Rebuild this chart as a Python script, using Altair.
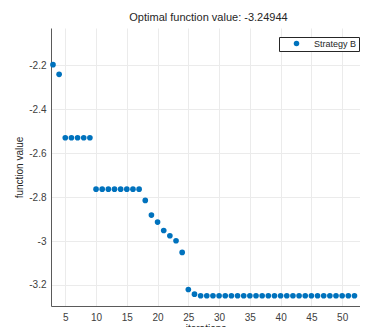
import altair as alt
import pandas as pd

iterations = list(range(3, 53))
values = [-2.197, -2.241,
          -2.53, -2.53, -2.53, -2.53, -2.53,
          -2.764, -2.764, -2.764, -2.764, -2.764, -2.764, -2.764, -2.764,
          -2.815, -2.882, -2.914, -2.952, -2.976, -2.999, -3.052,
          -3.221, -3.242] + [-3.24944] * 26
series = ["Strategy B"] * len(iterations)

df = pd.DataFrame({"iterations": iterations, "value": values, "series": series})

x_ticks = [5, 10, 15, 20, 25, 30, 35, 40, 45, 50]
y_ticks = [-3.2, -3.0, -2.8, -2.6, -2.4, -2.2]

chart = alt.Chart(df).mark_point(filled=True, size=32, opacity=1, shape="circle").encode(
    x=alt.X("iterations:Q",
            scale=alt.Scale(domain=[2.68, 52.9], nice=False, zero=False),
            axis=alt.Axis(values=x_ticks, title="iterations", labelPadding=6,
                          titlePadding=1)),
    y=alt.Y("value:Q",
            scale=alt.Scale(domain=[-3.296, -2.03], nice=False, zero=False),
            axis=alt.Axis(values=y_ticks, title="function value",
                          labelExpr="replace(format(datum.value, '~g'), '\u2212', '-')",
                          labelPadding=5, titlePadding=4)),
    color=alt.Color("series:N",
                    scale=alt.Scale(domain=["Strategy B"], range=["#0072BD"]),
                    legend=alt.Legend(title=None, orient="none", legendX=228, legendY=9,
                                      strokeColor="#262626", fillColor="white",
                                      padding=2, symbolOffset=11, labelOffset=13,
                                      labelFontSize=9, symbolSize=30,
                                      symbolType="circle", labelColor="#262626",
                                      labelFont="Liberation Sans")),
).properties(
    width=309, height=278,
    title=alt.TitleParams("Optimal function value: -3.24944", fontSize=11,
                          fontWeight="normal", font="Liberation Sans",
                          color="#262626", offset=5, dx=3),
    autosize=alt.AutoSizeParams(type="none"),
    padding={"left": 43, "top": 20, "right": 0, "bottom": 21},
).configure_axis(
    labelFont="Liberation Sans", titleFont="Liberation Sans",
    labelFontSize=10, titleFontSize=10, titleFontWeight="normal",
    labelColor="#404040", titleColor="#262626",
    gridColor="#ebebeb", domainColor="#5a5a5a", ticks=False,
).configure_view(stroke=None)

chart.save("out.html", embed_options={"renderer": "svg", "actions": False})
